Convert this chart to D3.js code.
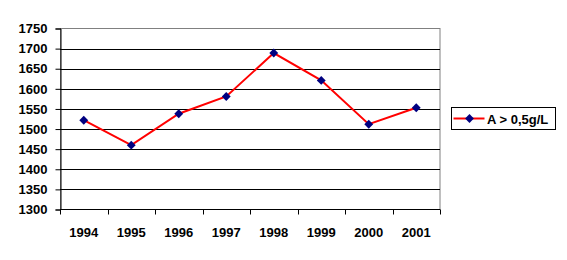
<!DOCTYPE html>
<html>
<head>
<meta charset="utf-8">
<script src="https://cdn.jsdelivr.net/npm/d3@7"></script>
<style>
  body { margin: 0; background: #fff; }
  text { font-family: "Liberation Sans", Arial, sans-serif; font-weight: bold; }
</style>
</head>
<body>
<script>
var width = 567,
    height = 260;

// data
var years = ["1994", "1995", "1996", "1997", "1998", "1999", "2000", "2001"];
var values = [1522, 1460, 1538, 1581, 1689, 1621, 1512, 1553];
var yTicks = [1300, 1350, 1400, 1450, 1500, 1550, 1600, 1650, 1700, 1750];
var seriesName = "A > 0,5g/L";

var plot = {left: 60, right: 440, top: 28.5, bottom: 209.5};

var svg = d3.select("body").append("svg")
    .attr("width", width)
    .attr("height", height);

var x = d3.scaleBand()
    .domain(years)
    .range([plot.left, plot.right]);

var y = d3.scaleLinear()
    .domain([1300, 1750])
    .range([plot.bottom, plot.top]);

// plot area border (grey, excel style)
svg.append("rect")
    .attr("x", plot.left + 0.5)
    .attr("y", plot.top)
    .attr("width", plot.right - plot.left - 0.5)
    .attr("height", plot.bottom - plot.top)
    .attr("fill", "none")
    .attr("stroke", "#808080");

// gridlines
svg.append("g")
  .selectAll("line")
  .data(yTicks.filter(function(d) { return d > 1300 && d < 1750; }))
  .enter().append("line")
    .attr("x1", plot.left)
    .attr("x2", plot.right)
    .attr("y1", function(d) { return Math.round(y(d)) + 0.5; })
    .attr("y2", function(d) { return Math.round(y(d)) + 0.5; })
    .attr("stroke", "#000");

// y axis
var yAxis = svg.append("g")
    .attr("transform", "translate(" + (plot.left + 0.5) + ",0)")
    .call(d3.axisLeft(y).tickValues(yTicks).tickSize(5).tickPadding(8).tickFormat(d3.format("d")));
yAxis.select(".domain").attr("stroke", "#000");
yAxis.selectAll(".tick line").attr("stroke", "#000");
yAxis.selectAll("text").attr("fill", "#000").style("font-size", "13px");

// x axis with ticks between categories
var xAxis = svg.append("g")
    .attr("transform", "translate(0," + plot.bottom + ")");
xAxis.append("line")
    .attr("x1", plot.left).attr("x2", plot.right)
    .attr("stroke", "#000");
xAxis.selectAll(".tk")
  .data(years.concat(["end"]))
  .enter().append("line")
    .attr("x1", function(d, i) { return Math.round(plot.left + i * x.step()) + 0.5; })
    .attr("x2", function(d, i) { return Math.round(plot.left + i * x.step()) + 0.5; })
    .attr("y1", 0).attr("y2", 5)
    .attr("stroke", "#000");
xAxis.selectAll(".lbl")
  .data(years)
  .enter().append("text")
    .attr("x", function(d) { return x(d) + x.bandwidth() / 2; })
    .attr("y", 27)
    .attr("text-anchor", "middle")
    .style("font-size", "13px")
    .text(function(d) { return d; });

// series line
var line = d3.line()
    .x(function(d, i) { return x(years[i]) + x.bandwidth() / 2; })
    .y(function(d) { return y(d); });

svg.append("path")
    .datum(values)
    .attr("d", line)
    .attr("fill", "none")
    .attr("stroke", "#ff0000")
    .attr("stroke-width", 2);

var diamond = d3.symbol().type(d3.symbolDiamond2).size(50);

svg.append("g")
  .selectAll("path")
  .data(values)
  .enter().append("path")
    .attr("d", diamond)
    .attr("transform", function(d, i) {
      return "translate(" + (x(years[i]) + x.bandwidth() / 2) + "," + y(d) + ")";
    })
    .attr("fill", "#000080");

// legend
var lg = svg.append("g").attr("transform", "translate(451.5,107.5)");
lg.append("rect")
    .attr("width", 104)
    .attr("height", 22)
    .attr("fill", "#fff")
    .attr("stroke", "#000");
lg.append("line")
    .attr("x1", 2).attr("x2", 33)
    .attr("y1", 11).attr("y2", 11)
    .attr("stroke", "#ff0000")
    .attr("stroke-width", 2);
lg.append("path")
    .attr("d", diamond)
    .attr("transform", "translate(18,11)")
    .attr("fill", "#000080");
lg.append("text")
    .attr("x", 35.5)
    .attr("y", 16)
    .style("font-size", "13px")
    .text(seriesName);
</script>
</body>
</html>
